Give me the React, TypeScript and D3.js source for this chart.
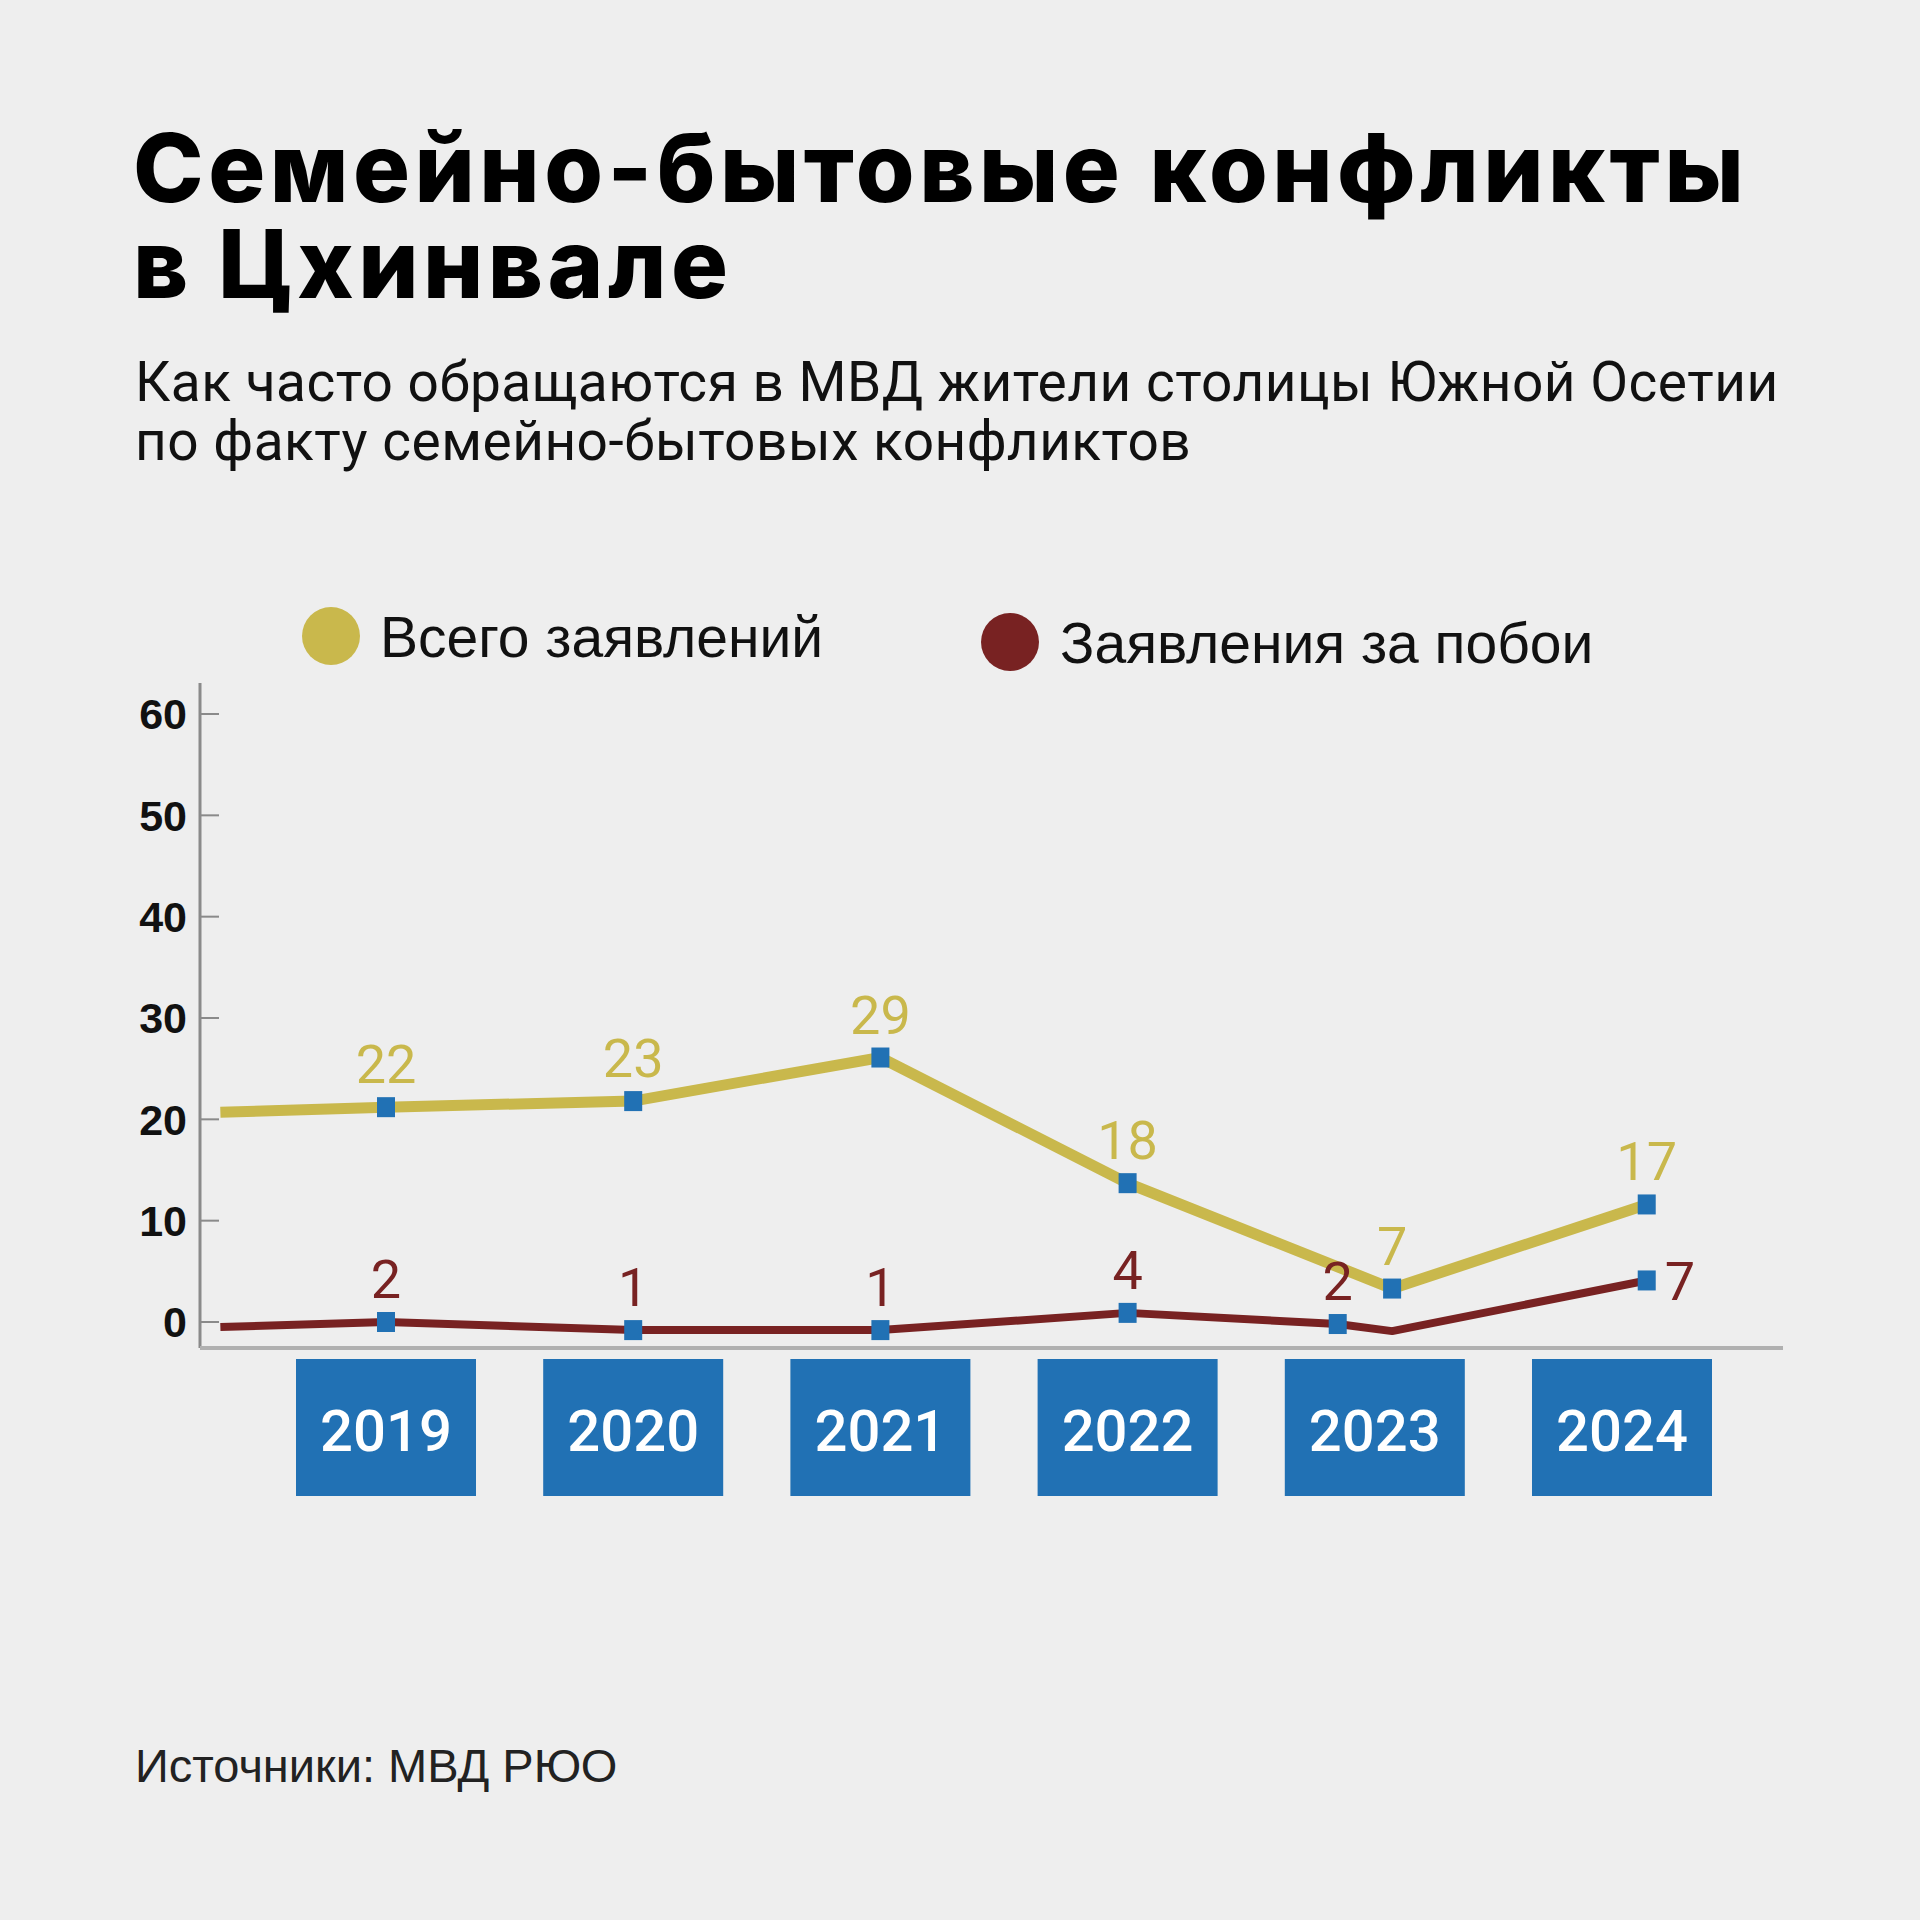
import * as d3 from 'd3';

const years = [2019, 2020, 2021, 2022, 2023, 2024];
const yTicks = [0, 10, 20, 30, 40, 50, 60];

// value labels printed next to the markers
const totalLabels = ['22', '23', '29', '18', '7', '17'];
const beatLabels = ['2', '1', '1', '4', '2', '7'];

// line vertices as drawn in the picture (year position, value)
const totalX = [2018.33, 2019, 2020, 2021, 2022, 2023.07, 2024.1];
const totalY = [20.7, 21.2, 21.8, 26.1, 13.7, 3.3, 11.6];
const totalMarker = [false, true, true, true, true, true, true];

const beatX = [2018.33, 2019, 2020, 2021, 2022, 2022.85, 2023.07, 2024.1];
const beatY = [-0.5, 0, -0.8, -0.8, 0.9, -0.2, -0.9, 4.1];
const beatMarker = [false, true, true, true, true, true, false, true];

const W = 1920;
const H = 1920;
const YELLOW = '#c9b84c';
const RED = '#782222';
const BLUE = '#2171b4';

const x = d3.scaleLinear().domain([2019, 2024]).range([386, 1622]);
const y = d3.scaleLinear().domain([0, 60]).range([1322, 714]);

const line = d3.line<[number, number]>()
    .x(d => x(d[0]))
    .y(d => y(d[1]));

const toPts = (xs: number[], ys: number[]) => xs.map((v, i) => [v, ys[i]] as [number, number]);

const App = () => {
    const totalPts = toPts(totalX, totalY);
    const beatPts = toPts(beatX, beatY);
    const totalMarks = totalPts.filter((_, i) => totalMarker[i]);
    const beatMarks = beatPts.filter((_, i) => beatMarker[i]);

    return (
        <svg width={W} height={H} style={{ position: 'absolute', left: 0, top: 0, display: 'block' }}>
            <rect width={W} height={H} fill="#eeeeee" />

            {/* title */}
            <g fontFamily="Inter, sans-serif" fontWeight={800} fontSize={95} fill="#000" letterSpacing={4.5}>
                <text x={133} y={202}>Семейно-бытовые конфликты</text>
                <text x={133} y={298}>в Цхинвале</text>
            </g>
            <g fontFamily="Roboto, sans-serif" fontSize={55} fill="#111" letterSpacing={0.5}>
                <text x={135} y={401}>Как часто обращаются в МВД жители столицы Южной Осетии</text>
                <text x={135} y={460}>по факту семейно-бытовых конфликтов</text>
            </g>

            {/* legend */}
            <g fontFamily="'Liberation Sans', Arial, sans-serif" fontSize={57} fill="#111">
                <circle cx={331} cy={636} r={29} fill={YELLOW} />
                <text x={380} y={657}>Всего заявлений</text>
                <circle cx={1010} cy={642} r={29} fill={RED} />
                <text x={1060} y={663}>Заявления за побои</text>
            </g>

            {/* axes */}
            <line x1={200} x2={200} y1={683} y2={1348} stroke="#8a8a8a" strokeWidth={3} />
            <line x1={200} x2={1783} y1={1348} y2={1348} stroke="#b0b0b0" strokeWidth={4} />
            {yTicks.map(t => (
                <g key={t}>
                    <line x1={200} x2={219} y1={y(t)} y2={y(t)} stroke="#8a8a8a" strokeWidth={2} />
                    <text x={187} y={y(t)} dy="0.36em" textAnchor="end"
                        fontFamily="'Liberation Sans', Arial, sans-serif" fontWeight="bold" fontSize={43} fill="#111">
                        {t}
                    </text>
                </g>
            ))}

            {/* lines */}
            <path d={line(totalPts) ?? ''} fill="none" stroke={YELLOW} strokeWidth={11} strokeLinejoin="miter" />
            <path d={line(beatPts) ?? ''} fill="none" stroke={RED} strokeWidth={8} strokeLinejoin="round" />

            {/* markers */}
            {[...totalMarks, ...beatMarks].map((p, i) => (
                <rect key={i} x={x(p[0]) - 9} y={y(p[1]) - 10} width={18} height={20} fill={BLUE} />
            ))}

            {/* value labels */}
            <g fontFamily="Roboto, sans-serif" fontSize={54} textAnchor="middle">
                {totalMarks.map((p, i) => (
                    <text key={'t' + i} x={x(p[0])} y={y(p[1]) - 24} fill={YELLOW}>{totalLabels[i]}</text>
                ))}
                {beatMarks.map((p, i) => {
                    const last = i === beatMarks.length - 1;
                    return (
                        <text key={'b' + i}
                            x={x(p[0]) + (last ? 18 : 0)}
                            y={y(p[1]) + (last ? 20 : -24)}
                            textAnchor={last ? 'start' : 'middle'}
                            fill={RED}>
                            {beatLabels[i]}
                        </text>
                    );
                })}
            </g>

            {/* year boxes */}
            {years.map(yr => (
                <g key={yr}>
                    <rect x={x(yr) - 90} y={1359} width={180} height={137} fill={BLUE} />
                    <text x={x(yr)} y={1451} textAnchor="middle" fill="#fff"
                        fontFamily="Roboto, sans-serif" fontWeight={500} fontSize={58}>
                        {yr}
                    </text>
                </g>
            ))}

            {/* source */}
            <text x={135} y={1782} fontFamily="'Liberation Sans', Arial, sans-serif" fontSize={47} fill="#222">
                Источники: МВД РЮО
            </text>
        </svg>
    );
};

export default App;
